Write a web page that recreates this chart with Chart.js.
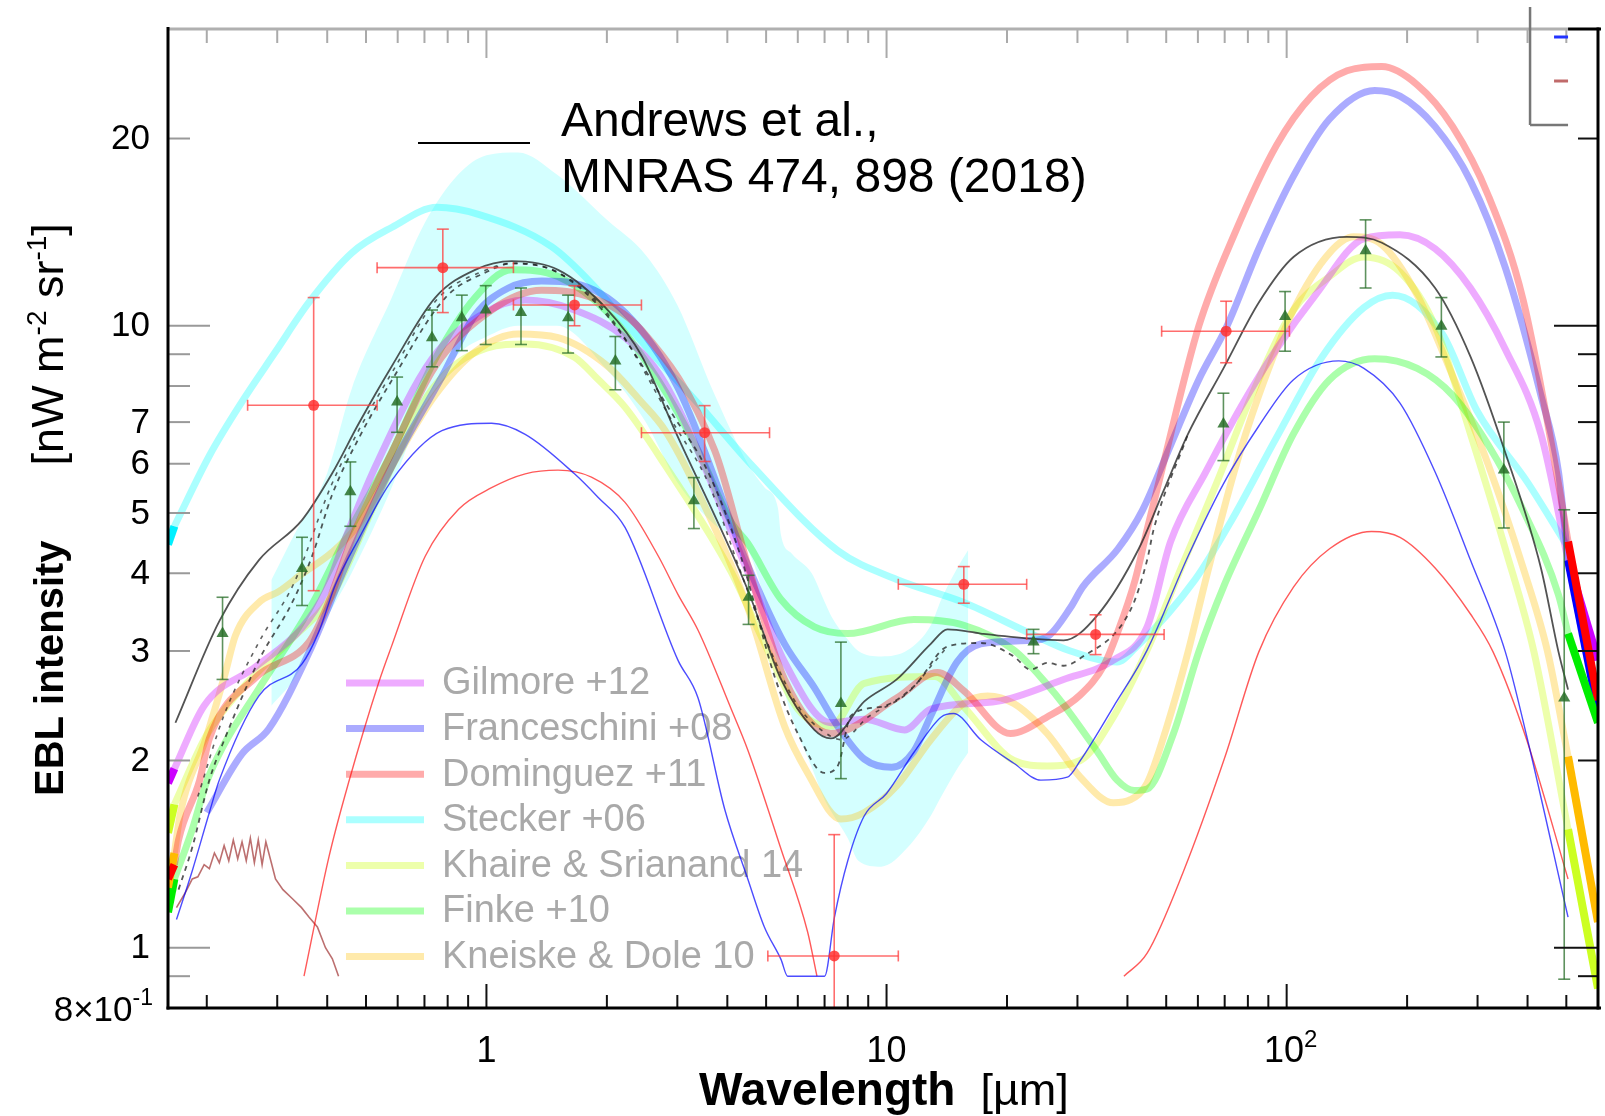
<!DOCTYPE html>
<html><head><meta charset="utf-8">
<script src="https://cdn.jsdelivr.net/npm/chart.js@4.4.1/dist/chart.umd.min.js"></script>
<style>html,body{margin:0;padding:0;background:#fff;overflow:hidden}</style>
</head><body><canvas id="c" width="1605" height="1116"></canvas>
<script>
// ---------- axis ticks ----------
const xTickVals = [0.2,0.3,0.4,0.5,0.6,0.7,0.8,0.9,1,2,3,4,5,6,7,8,9,10,20,30,40,50,60,70,80,90,100,200,300,400,500];
const xMajorVals = [1,10,100];
const xLabelVals = [1,10,100];
const xLabelText = ['1','10','10'];
const xLabelSup = ['','','2'];
const yTickVals = [0.9,1,2,3,4,5,6,7,8,9,10,20];
const yMajorVals = [1,10];
const yLabelVals = [1,2,3,4,5,6,7,10,20];
const yLabelText = ['1','2','3','4','5','6','7','10','20'];

// ---------- models (wavelength um, intensity nW m^-2 sr^-1) ----------
const gilmoreLam = [0.166,0.197,0.265,0.346,0.396,0.444,0.528,0.731,0.993,1.25,1.66,2.22,2.79,4.5,5.56,7.26,8.8,11.1,12.9,18.9,27.7,36.9,44.8,51.3,62.8,76.9,94.3,118,156,192,235,288,352,432,505];
const gilmoreI   = [1.94,2.45,2.83,3.27,3.74,4.55,5.94,8.85,10.5,11.0,10.6,9.57,8.1,4.02,2.88,2.3,2.33,2.24,2.42,2.49,2.7,2.9,3.28,4.5,5.82,7.41,9.17,11.2,13.8,14.0,13.3,11.5,9.17,6.7,4.2];

const franLam = [0.2,0.245,0.286,0.36,0.444,0.58,0.774,0.937,1.135,1.374,1.66,2.22,3.01,4.5,5.56,6.6,7.55,8.8,10.3,11.7,12.9,15.0,17.2,22.9,25.2,28.8,30.9,37.9,43.6,51.3,60.3,70.9,85.2,104,128,166,192,235,288,352,432,478,505];
const franI   = [1.65,2.05,2.25,2.98,4.1,5.94,8.28,10.4,11.5,11.8,11.7,10.5,7.95,4.12,3.08,2.62,2.27,2.01,1.95,2.07,2.36,2.88,3.08,3.12,3.16,3.52,3.8,4.38,5.05,6.43,8.19,9.98,13.3,17.4,21.5,23.9,23.4,20.9,17.1,12.4,7.73,5.82,4.2];

const domLam = [0.166,0.17,0.192,0.203,0.265,0.36,0.396,0.461,0.58,0.745,1.03,1.374,1.83,2.44,3.72,4.5,5.56,7.26,10.6,13.4,15.6,20.4,25.2,30.5,35,37.7,41.8,44.8,49.2,60.3,73.9,94.3,115.4,141.5,173,212,260,319,390,478,505];
const domI   = [1.36,1.49,1.86,2.17,2.72,3.1,3.49,4.55,6.26,8.61,10.6,11.4,11.1,9.84,6.3,4.12,2.7,2.21,2.52,2.77,2.59,2.21,2.35,2.55,2.85,3.2,3.9,4.7,6.0,9.98,14.0,19.5,23.4,25.7,26.1,24.4,20.9,16.2,11.0,5.57,4.5];

const steckerLam = [0.166,0.203,0.245,0.297,0.36,0.461,0.581,0.752,0.955,1.455,1.83,2.49,3.38,4.59,7.55,10.6,15.6,22.9,28.8,37.7,41.8,59.1,72.5,94.3,122.6,156,184,245,299,400,505];
const steckerI   = [4.76,6.18,7.55,9.08,10.9,13.1,14.4,15.5,15.1,13.4,11.7,9.3,7.5,5.98,4.35,3.91,3.59,3.2,3.0,2.88,3.03,3.91,4.84,6.61,8.91,10.7,11.2,9.7,7.3,5.6,4.4];

const khaireLam = [0.166,0.2,0.245,0.327,0.411,0.528,0.731,1.0,1.25,1.66,1.9,2.22,2.79,4.09,4.96,6.0,7.26,8.8,13.2,15.6,20.8,25.2,30.5,36.9,44.8,54.5,66.7,81.8,104,128,156,192,235,288,352,415,505];
const khaireI   = [1.7,2.2,2.61,3.14,3.68,5.2,7.9,9.2,9.35,8.9,8.2,7.4,5.98,4.02,3.08,2.42,2.27,2.66,2.73,2.44,2.0,1.96,2.0,2.35,3.01,4.08,5.57,7.73,10.6,12.0,12.9,12.2,9.98,6.7,4.38,2.99,1.55];

const finkeLam = [0.166,0.184,0.2,0.219,0.27,0.36,0.444,0.58,0.745,0.937,1.157,1.51,2.01,2.69,3.38,4.09,4.5,5.45,6.6,8.0,11.7,15.6,20.8,25.2,27.7,33.6,37.7,41.6,44.8,52,60.3,69.5,85.2,104,128,166,212,260,319,390,478,505];
const finkeI   = [1.29,1.55,1.85,2.1,2.61,3.49,4.55,6.26,8.85,11.1,12.3,12.0,10.5,8.17,6.3,4.83,4.47,3.63,3.28,3.2,3.37,3.3,3.01,2.65,2.46,2.07,1.86,1.79,1.8,2.2,2.99,3.8,5.05,6.7,8.19,8.85,8.54,7.73,6.43,5.05,3.69,3.2];

const kneiskeLam = [0.166,0.172,0.199,0.222,0.236,0.27,0.303,0.346,0.411,0.48,0.58,0.745,0.937,1.2,1.51,2.01,2.44,2.79,3.38,4.5,5.56,6.35,7.69,8.8,10.6,12.9,15.6,17.9,20.8,25.2,30.5,36.9,40.7,44.8,50,56.7,62.8,73.9,85.2,104,128,147,173,212,260,319,390,449,505];
const kneiskeI   = [1.42,1.65,2.17,2.75,3.18,3.59,3.74,3.99,4.32,4.8,5.94,7.74,9.08,9.7,9.57,8.61,7.54,6.8,5.4,3.52,2.27,1.91,1.61,1.65,1.82,2.16,2.47,2.54,2.47,2.21,1.88,1.71,1.73,1.84,2.25,2.99,3.91,5.82,7.73,10.6,13.1,13.9,13.5,11.2,8.3,5.98,4.08,2.99,2.03];

// saturated model ends at the plot edges
const leftEndLam = [0.16,0.166];
const rightEndLam = [505,600];
const steckerLeftI = [4.45,4.76];
const gilmoreLeftI = [1.84,1.94];
const khaireLeftI = [1.53,1.7];
const domLeftI = [1.29,1.36];
const kneiskeLeftI = [1.25,1.42];
const finkeLeftI = [1.14,1.29];
const gilmoreRightI = [4.2,2.9];
const domRightI = [4.5,2.5];
const franRightI = [4.2,2.4];
const finkeRightI = [3.2,2.3];
const kneiskeRightI = [2.03,1.1];
const khaireRightI = [1.55,0.86];

// Andrews et al. 2018
const andrewsLam = [0.167,0.215,0.27,0.346,0.411,0.48,0.58,0.745,0.937,1.157,1.51,2.01,2.44,2.96,4.5,5.45,6.6,7.26,8.8,10.6,12.9,14.2,17.2,22.9,27.7,33.6,42.7,49.2,56.7,69.5,85.2,104,141.5,173,235,288,352,432,478,505];
const andrewsI   = [2.3,3.35,4.2,4.87,5.78,6.97,8.61,11.1,12.3,12.7,12.3,10.6,8.96,6.78,3.76,2.7,2.24,2.17,2.49,2.7,3.08,3.25,3.2,3.14,3.12,3.42,4.38,5.42,6.7,8.54,10.9,12.9,13.9,13.6,11.5,8.92,6.25,4.08,2.99,2.6];
const andrewsLowLam = [0.17,0.184,0.203,0.222,0.27,0.327,0.367,0.411,0.48,0.58,0.79,1.0,1.16,1.5,2.0,2.96,3.58,4.33,5.25,6.0,7.0,7.55,8.15,9.7,11.7,14.2,17.2,20.8,22.9,25.2,27.7,30.5,40.7,44.8,46.5,56.7];
const andrewsLowI   = [1.24,1.45,1.86,2.17,2.9,3.59,4.27,5.34,6.6,8.17,11.1,12.2,12.6,12.2,10.4,7.1,5.82,4.24,2.73,2.21,1.91,1.96,2.36,2.44,2.63,3.05,3.09,2.94,2.8,2.87,2.84,2.92,3.49,4.2,4.7,6.7];
const andrewsMidLam = [0.19,0.22,0.27,0.33,0.41,0.48,0.58,0.75,1.0,1.16,1.5,2.0,2.96,3.58,4.33,5.25,6.0,7.0,7.7,9.0,11.3,13.0,14.2];
const andrewsMidI   = [1.75,2.35,3.1,3.85,5.55,6.8,8.4,11.0,12.3,12.6,12.2,10.5,6.9,5.6,4.0,2.9,2.45,2.22,2.16,2.35,2.57,2.85,3.05];

// thin component curves
const blueThinLam = [0.168,0.184,0.203,0.215,0.27,0.346,0.381,0.419,0.48,0.58,0.774,1.03,1.25,1.66,1.9,2.22,3.01,3.38,3.94,4.5,4.95,5.45,5.66,7.0,7.41,8.0,8.8,10.0,11.7,13.7,14.7,17.2,20.8,24.3,28.3,30.5,36.9,44.8,56.7,69.5,85.2,104,135,156,192,235,288,352,398,505];
const blueThinI   = [1.11,1.33,1.65,1.86,2.54,2.86,3.22,3.83,4.55,5.64,6.78,6.97,6.69,5.78,5.3,4.74,2.9,2.52,1.67,1.29,1.08,0.957,0.9,0.9,1.12,1.38,1.63,1.77,2.06,2.35,2.38,2.16,1.98,1.86,1.88,2.0,2.44,3.01,4.26,5.57,6.9,8.19,8.78,8.54,7.51,5.82,4.2,2.99,2.19,1.12];
const redThinLam = [0.35,0.404,0.452,0.538,0.58,0.703,0.852,1.03,1.25,1.51,1.83,2.22,2.69,3.01,3.38,4.09,4.5,5.45,6.35,6.7,20,39.2,44.8,55.3,70,85.2,104,128,163,192,235,288,328,398,505];
const redThinI   = [0.9,1.4,1.84,2.67,3.06,4.26,5.07,5.49,5.78,5.86,5.71,5.2,4.26,3.7,3.24,2.42,2.08,1.44,1.06,0.9,null,0.9,0.98,1.33,2.02,2.99,3.8,4.38,4.67,4.57,4.08,3.44,2.99,2.16,1.29];
const brownThinLam = [0.168,0.176,0.184,0.19,0.197,0.203,0.209,0.215,0.221,0.227,0.233,0.239,0.245,0.251,0.257,0.263,0.269,0.275,0.281,0.29,0.297,0.31,0.327,0.345,0.36,0.378,0.396,0.412,0.427];
const brownThinI   = [1.16,1.22,1.29,1.3,1.36,1.34,1.42,1.37,1.46,1.38,1.49,1.39,1.48,1.38,1.5,1.37,1.49,1.36,1.48,1.37,1.29,1.24,1.2,1.16,1.12,1.08,1.0,0.96,0.9];

// shaded uncertainty band
const bandLam   = [0.29,0.33,0.4,0.46,0.58,0.7,0.85,1.0,1.2,1.5,2.0,2.5,3.0,3.7,4.5,4.95,5.35,5.45,5.8,6.5,7.0,7.3,8.0,8.5,9.7,11.3,12.9,13.7,15.1,16.0];
const bandUpper = [3.9,4.6,5.8,7.9,11.1,14.6,17.5,18.8,19.0,17.5,14.8,13.0,10.8,7.8,6.0,5.5,5.1,4.6,4.3,4.0,3.6,3.4,3.13,3.0,2.94,3.01,3.3,3.63,4.1,4.36];
const bandLower = [2.45,2.7,3.4,4.0,5.5,7.5,9.0,9.6,10.0,10.0,8.5,7.0,5.6,4.8,4.36,3.63,2.83,2.7,2.35,1.95,1.73,1.65,1.5,1.38,1.35,1.45,1.63,1.75,1.95,2.06];

// measurements
const redLam   = [0.37,0.778,1.66,3.51,7.4,15.6,33.3,70.6];
const redI     = [7.45,12.4,10.8,6.73,0.97,3.84,3.19,9.8];
const redLamLo = [0.253,0.533,1.168,2.44,5.05,10.7,22.4,48.7];
const redLamHi = [0.533,1.168,2.44,5.1,10.7,22.4,49.4,101.6];
const redILo   = [3.75,10.5,10.0,6.05,0.8,3.58,2.96,8.72];
const redIHi   = [11.1,14.3,11.6,7.44,1.52,4.1,3.43,10.95];
const greenLam = [0.219,0.346,0.457,0.598,0.731,0.868,0.996,1.22,1.6,2.1,3.3,4.52,7.69,23.3,69.5,99.1,157.5,243.6,349,494];
const greenI   = [3.2,4.07,5.41,7.54,9.57,10.3,10.6,10.5,10.3,8.78,5.23,3.66,2.47,3.1,6.95,10.35,13.2,9.98,5.86,2.52];
const greenILo = [2.7,3.55,4.76,6.74,8.59,9.12,9.33,9.33,9.04,7.89,4.72,3.31,1.87,2.97,6.07,9.1,11.5,8.91,4.73,0.89];
const greenIHi = [3.66,4.57,6.04,8.27,10.6,11.2,11.6,11.5,11.2,9.61,5.7,3.97,3.1,3.25,7.79,11.35,14.8,11.1,7.0,5.06];

const legendNames = ['Gilmore +12','Franceschini +08','Dominguez +11','Stecker +06','Khaire & Srianand 14','Finke +10','Kneiske & Dole 10'];
const legendRGB = [[204,0,255],[0,0,255],[255,0,0],[0,255,255],[200,255,0],[0,255,0],[255,190,0]];

// ---------- helpers ----------
const pts = (lam, v) => lam.map((x, i) => ({x: x, y: v[i]}));
const pale = (c) => `rgba(${c[0]},${c[1]},${c[2]},0.33)`;
function lineDS(label, lam, v, color, width, order, extra) {
  return Object.assign({label, data: pts(lam, v), borderColor: color, backgroundColor: color,
    borderWidth: width, pointRadius: 0, fill: false, cubicInterpolationMode: 'monotone',
    order, clip: 0, spanGaps: false}, extra || {});
}
const TH = 7;
const datasets = [
  lineDS('bandUpper', bandLam, bandUpper, 'rgba(0,0,0,0)', 0, 100, {fill: '+1', backgroundColor: 'rgb(212,255,255)'}),
  lineDS('bandLower', bandLam, bandLower, 'rgba(0,0,0,0)', 0, 101),
  lineDS('Stecker', steckerLam, steckerI, pale(legendRGB[3]), TH, 66),
  lineDS('Khaire', khaireLam, khaireI, pale(legendRGB[4]), TH, 65),
  lineDS('Kneiske', kneiskeLam, kneiskeI, pale(legendRGB[6]), TH, 64),
  lineDS('Finke', finkeLam, finkeI, pale(legendRGB[5]), TH, 63),
  lineDS('Gilmore', gilmoreLam, gilmoreI, pale(legendRGB[0]), TH, 62),
  lineDS('Franceschini', franLam, franI, pale(legendRGB[1]), TH, 61),
  lineDS('Dominguez', domLam, domI, pale(legendRGB[2]), TH, 60),
  lineDS('stL', leftEndLam, steckerLeftI, '#00f0ff', 8, 50),
  lineDS('gL', leftEndLam, gilmoreLeftI, '#cc00ff', 8, 50),
  lineDS('kL', leftEndLam, khaireLeftI, '#ccff22', 8, 50),
  lineDS('dL', leftEndLam, domLeftI, '#ff0000', 8, 50),
  lineDS('knL', leftEndLam, kneiskeLeftI, '#ffbb00', 8, 50),
  lineDS('fL', leftEndLam, finkeLeftI, '#00ee00', 8, 50),
  lineDS('khR', rightEndLam, khaireRightI, '#ccff22', 8, 49),
  lineDS('knR', rightEndLam, kneiskeRightI, '#ffbb00', 8, 49),
  lineDS('gR', rightEndLam, gilmoreRightI, '#cc00ff', 8, 49),
  lineDS('frR', rightEndLam, franRightI, '#0000ff', 8, 48),
  lineDS('dR', rightEndLam, domRightI, '#ff0000', 8, 47),
  lineDS('fR', rightEndLam, finkeRightI, '#00ee00', 8, 46),
  lineDS('brown', brownThinLam, brownThinI, 'rgba(160,50,50,0.7)', 1.6, 40, {cubicInterpolationMode: 'default', tension: 0}),
  lineDS('redThin', redThinLam, redThinI, 'rgba(255,0,0,0.65)', 1.4, 39),
  lineDS('blueThin', blueThinLam, blueThinI, 'rgba(0,0,255,0.7)', 1.4, 38),
  lineDS('andrewsLow', andrewsLowLam, andrewsLowI, 'rgba(30,30,30,0.75)', 1.8, 31, {borderDash: [5, 5]}),
  lineDS('andrewsMid', andrewsMidLam, andrewsMidI, 'rgba(30,30,30,0.7)', 1.6, 32, {borderDash: [4, 6]}),
  lineDS('Andrews', andrewsLam, andrewsI, 'rgba(40,40,40,0.8)', 1.8, 30),
  {label: 'redPts', data: pts(redLam, redI), showLine: false, pointRadius: 5.5, pointStyle: 'circle',
   pointBackgroundColor: 'rgba(255,50,50,0.85)', pointBorderWidth: 0, order: 5, errKind: 'red', clip: 0},
  {label: 'greenPts', data: pts(greenLam, greenI), showLine: false, pointRadius: 7, pointStyle: 'triangle',
   pointBackgroundColor: 'rgba(40,110,40,0.85)', pointBorderWidth: 0, order: 4, errKind: 'green', clip: 0}
];

function seg(ctx, x1, y1, x2, y2) { ctx.beginPath(); ctx.moveTo(x1, y1); ctx.lineTo(x2, y2); ctx.stroke(); }
function rich(ctx, x, y, parts, align) {
  let w = 0;
  parts.forEach(p => { ctx.font = p.font; p.w = ctx.measureText(p.t).width; w += p.w; });
  let cx = align === 'right' ? x - w : (align === 'center' ? x - w / 2 : x);
  ctx.textAlign = 'left';
  parts.forEach(p => { ctx.font = p.font; ctx.fillText(p.t, cx, y + (p.dy || 0)); cx += p.w; });
}
const FF = '"Liberation Sans", Arial, sans-serif';

const decor = {
  id: 'decor',
  beforeDatasetsDraw(chart) {
    const ctx = chart.ctx;
    ctx.save();
    const y0 = 683, step = 45.6;
    legendNames.forEach((n, i) => {
      const y = y0 + i * step;
      ctx.strokeStyle = pale(legendRGB[i]); ctx.lineWidth = 7;
      seg(ctx, 346, y, 424, y);
      ctx.fillStyle = '#a9a9a9'; ctx.font = '38px ' + FF; ctx.textBaseline = 'middle'; ctx.textAlign = 'left';
      ctx.fillText(n, 442, y + 1);
    });
    ctx.restore();
  },
  beforeDatasetDraw(chart, args) {
    const ds = chart.data.datasets[args.index];
    if (!ds.errKind) return;
    const ctx = chart.ctx, X = chart.scales.x, Y = chart.scales.y;
    ctx.save();
    ctx.lineWidth = 1.6;
    if (ds.errKind === 'red') {
      ctx.strokeStyle = 'rgba(255,60,60,0.75)';
      redLam.forEach((l, i) => {
        const x = X.getPixelForValue(l), y = Y.getPixelForValue(redI[i]);
        const x1 = X.getPixelForValue(redLamLo[i]), x2 = X.getPixelForValue(redLamHi[i]);
        const y1 = Y.getPixelForValue(redILo[i]), y2 = Y.getPixelForValue(redIHi[i]);
        seg(ctx, x1, y, x2, y); seg(ctx, x1, y - 5.5, x1, y + 5.5); seg(ctx, x2, y - 5.5, x2, y + 5.5);
        seg(ctx, x, y1, x, y2); seg(ctx, x - 6, y2, x + 6, y2);
        if (redILo[i] > 0.81) seg(ctx, x - 6, y1, x + 6, y1);
      });
    } else {
      ctx.strokeStyle = 'rgba(40,110,40,0.75)';
      greenLam.forEach((l, i) => {
        const x = X.getPixelForValue(l);
        const y1 = Y.getPixelForValue(greenILo[i]), y2 = Y.getPixelForValue(greenIHi[i]);
        seg(ctx, x, y1, x, y2); seg(ctx, x - 6, y1, x + 6, y1); seg(ctx, x - 6, y2, x + 6, y2);
      });
    }
    ctx.restore();
  },
  afterDraw(chart) {
    const ctx = chart.ctx, X = chart.scales.x, Y = chart.scales.y;
    const {left: L, right: R, top: T, bottom: B} = chart.chartArea;
    ctx.save();
    ctx.lineCap = 'butt';
    ctx.lineWidth = 2;
    xTickVals.forEach(v => {
      const p = X.getPixelForValue(v), major = xMajorVals.includes(v);
      ctx.strokeStyle = '#111'; seg(ctx, p, B, p, B - (major ? 24 : 13));
      ctx.strokeStyle = '#aaa'; seg(ctx, p, T, p, T + (major ? 29 : 14));
    });
    yTickVals.forEach(v => {
      const p = Y.getPixelForValue(v), major = yMajorVals.includes(v);
      ctx.strokeStyle = '#999'; seg(ctx, L, p, L + (major ? 42 : 22), p);
      ctx.strokeStyle = '#111'; seg(ctx, R, p, R - (major ? 44 : 20), p);
    });
    const xe = X.getPixelForValue(505);
    ctx.lineWidth = 3;
    ctx.strokeStyle = '#b0b0b0'; seg(ctx, L, T, xe, T);
    ctx.strokeStyle = '#000'; seg(ctx, xe, T, R + 3, T);
    seg(ctx, L, T - 2, L, B + 1.5); seg(ctx, L - 1.5, B, R + 3, B); seg(ctx, R, T - 1.5, R, B + 1.5);
    ctx.lineWidth = 2.5; ctx.strokeStyle = '#777';
    seg(ctx, xe - 38, 7, xe - 38, 125); seg(ctx, xe - 38, 125, xe, 125);
    ctx.lineWidth = 3;
    ctx.strokeStyle = '#2233ff'; seg(ctx, xe - 14, 37, xe, 37);
    ctx.strokeStyle = '#c06a6a'; seg(ctx, xe - 14, 81, xe, 81);
    ctx.fillStyle = '#000'; ctx.textBaseline = 'middle';
    yLabelVals.forEach((v, i) => {
      rich(ctx, L - 18, Y.getPixelForValue(v) + 1, [{t: yLabelText[i], font: '35px ' + FF}], 'right');
    });
    rich(ctx, L - 15, Y.getPixelForValue(0.8) + 3, [{t: '8\u00d710', font: '35px ' + FF}, {t: '-1', font: '23px ' + FF, dy: -12}], 'right');
    xLabelVals.forEach((v, i) => {
      const parts = [{t: xLabelText[i], font: '36px ' + FF}];
      if (xLabelSup[i]) parts.push({t: xLabelSup[i], font: '24px ' + FF, dy: -12});
      rich(ctx, X.getPixelForValue(v) + (xLabelSup[i] ? 4 : 0), B + 44, parts, 'center');
    });
    ctx.textBaseline = 'alphabetic';
    rich(ctx, 699, 1105, [{t: 'Wavelength', font: 'bold 46px ' + FF}, {t: '  [\u00b5m]', font: '45px ' + FF}], 'left');
    ctx.save();
    ctx.translate(63, 796); ctx.rotate(-Math.PI / 2);
    rich(ctx, 0, 0, [{t: 'EBL intensity', font: 'bold 40px ' + FF}, {t: '      [nW m', font: '45px ' + FF},
      {t: '-2', font: '28px ' + FF, dy: -17}, {t: ' sr', font: '45px ' + FF}, {t: '-1', font: '28px ' + FF, dy: -17},
      {t: ']', font: '45px ' + FF}], 'left');
    ctx.restore();
    ctx.strokeStyle = '#000'; ctx.lineWidth = 2; seg(ctx, 418, 143, 530, 143);
    ctx.fillStyle = '#000'; ctx.textAlign = 'left'; ctx.font = '48px ' + FF;
    ctx.fillText('Andrews et al.,', 561, 136);
    ctx.fillText('MNRAS 474, 898 (2018)', 561, 192);
    ctx.restore();
  }
};

new Chart(document.getElementById('c'), {
  type: 'line',
  data: {datasets},
  options: {
    responsive: false, animation: false, devicePixelRatio: 1,
    layout: {padding: {left: 168, right: 3, top: 29, bottom: 108}},
    plugins: {legend: {display: false}, tooltip: {enabled: false}},
    scales: {
      x: {type: 'logarithmic', min: 0.16, max: 600, display: false},
      y: {type: 'logarithmic', min: 0.8, max: 30, display: false}
    }
  },
  plugins: [decor]
});
</script></body></html>
